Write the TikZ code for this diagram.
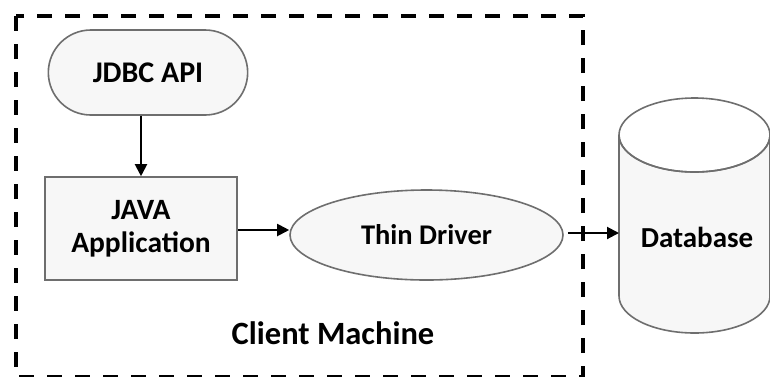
\documentclass[tikz,border=0pt]{standalone}
\usepackage{fontspec}
\setmainfont{Carlito}
\usetikzlibrary{%
  arrows.meta,%
  shapes.misc,% wg. rounded rectangle
  shapes.geometric,% ellipse
  positioning%
}
\definecolor{boxfill}{HTML}{F7F7F7}
\definecolor{boxline}{HTML}{6E6E6E}

\begin{document}
\begin{tikzpicture}
  [
  x=1pt, y=-1pt,
  font=\bfseries,
  line width=2pt,
  >={Triangle[length=12pt,width=12pt]},
  apinode/.style={rounded rectangle, draw=boxline, fill=boxfill, line width=1.6pt,
    minimum width=206pt, minimum height=85pt, font=\fontsize{30}{32}\selectfont\bfseries},
  appnode/.style={rectangle, draw=boxline, fill=boxfill, line width=1.6pt, align=center,
    minimum width=192pt, minimum height=103pt, font=\fontsize{29.5}{33}\selectfont\bfseries},
  drvnode/.style={ellipse, draw=boxline, fill=boxfill, line width=1.6pt,
    minimum width=273pt, minimum height=90pt, font=\fontsize{28.5}{31}\selectfont\bfseries},
  ]
\useasboundingbox (0,0) rectangle (770,376);

% client machine frame
\draw[line width=3.5pt, dash pattern=on 15pt off 13pt] (16,16) rectangle (583,377);
\node (client) at (333,333) {\fontsize{32.5}{35}\selectfont Client Machine};

\node[apinode] (jdbc) at (148,72.5) {JDBC API};
\node[appnode] (app) at (141,228.5) {JAVA\\Application};
\node[drvnode] (drv) at (426.5,235) {Thin Driver};

% database cylinder
\draw[draw=boxline, fill=boxfill, line width=1.6pt]
  (619,135) -- (619,296) arc[start angle=180, end angle=0, x radius=75.5, y radius=37]
  -- (770,135) arc[start angle=0, end angle=180, x radius=75.5, y radius=37] -- cycle;
\draw[draw=boxline, line width=1.6pt] (694.5,135) ellipse [x radius=75.5, y radius=37];
\node (db) at (697,237) {\fontsize{29}{31}\selectfont Database};
\coordinate (dbin) at (619,233);

\draw[->] (jdbc.south -| app.north) -- (app.north);
\draw[->] (app.east |- 0,230) -- (drv.west |- 0,230);
\draw[->] ([xshift=4pt]drv.east |- 0,233) -- (dbin);
\end{tikzpicture}
\end{document}
